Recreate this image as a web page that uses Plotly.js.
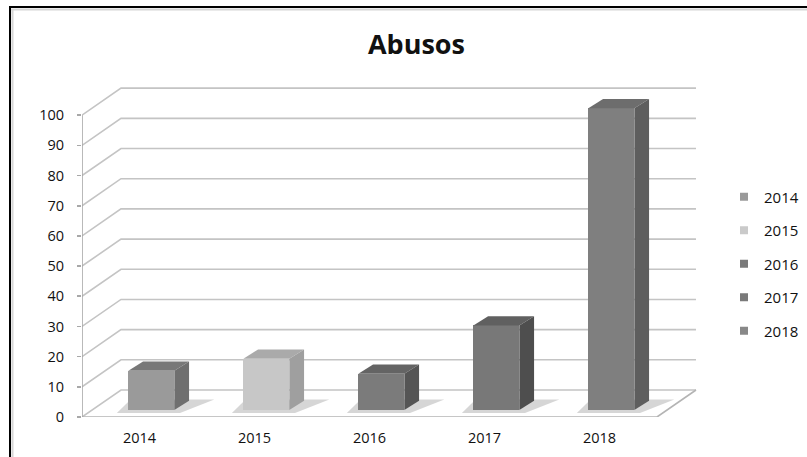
<!DOCTYPE html>
<html>
<head>
<meta charset="utf-8">
<script src="https://cdn.plot.ly/plotly-3.0.1.min.js"></script>
<style>html,body{margin:0;padding:0;background:#fff;}#chart{width:807px;height:457px;}</style>
</head>
<body>
<div id="chart"></div>
<script>
// ---- data ----
const categories = ["2014", "2015", "2016", "2017", "2018"];
const values = [13, 17, 12, 28, 100];
const yTicks = [0, 10, 20, 30, 40, 50, 60, 70, 80, 90, 100];
const frontColors = ["#9a9a9a", "#c7c7c7", "#7b7b7b", "#787878", "#7f7f7f"];
const sideColors  = ["#6f6f6f", "#9f9f9f", "#555555", "#4e4e4e", "#5e5e5e"];
const topColors   = ["#787878", "#aaaaaa", "#646464", "#606060", "#6d6d6d"];
const legendColors = ["#9a9a9a", "#cacaca", "#7a7a7a", "#7a7a7a", "#888888"];

// ---- geometry (style) ----
const XMIN = -0.5, XMAX = 4.9, YMAX = 110;
const DX = 0.339, DY = 8.95;          // full floor depth in data units
const XS = 0.103, YS = 2.32;          // bar front face depth shift
const BW = 0.40;                      // bar width
const BDX = 0.128, BDY = 3.08;        // bar depth
const FLOOR_RIGHT = categories.length - 0.5;
const BACK_RIGHT = FLOOR_RIGHT + DX;

const idx = categories.map((_, i) => i);
const traces = [];
traces.push({
  type: "bar",
  x: idx.map(i => i + XS),
  y: values,
  base: idx.map(() => YS),
  width: idx.map(() => BW),
  marker: {color: frontColors, line: {width: 0}},
  showlegend: false,
  hoverinfo: "skip"
});
categories.forEach((c, i) => {
  traces.push({
    type: "scatter", mode: "markers", x: [null], y: [null], name: c,
    marker: {symbol: "square", size: 8, color: legendColors[i]},
    legendgroup: "g" + i, showlegend: true
  });
});

const shapes = [];
const gridColor = "#c4c4c4";
// walls gridlines
yTicks.forEach(v => {
  shapes.push({type: "path", xref: "x", yref: "y", layer: "below",
    path: `M${XMIN},${v} L${XMIN + DX},${v + DY} L${BACK_RIGHT},${v + DY}`,
    line: {color: gridColor, width: 1.6}});
});
// floor front & right edges
shapes.push({type: "path", xref: "x", yref: "y", layer: "below",
  path: `M${XMIN},0 L${FLOOR_RIGHT},0 L${BACK_RIGHT},${DY}`,
  line: {color: "#b4b4b4", width: 1.6}});
// vertical axis line
shapes.push({type: "line", xref: "x", yref: "y", layer: "below",
  x0: XMIN, x1: XMIN, y0: 0, y1: yTicks[yTicks.length - 1],
  line: {color: "#a8a8a8", width: 1.6}});
// x tick marks at boundaries
for (let k = 0; k <= categories.length; k++) {
  shapes.push({type: "line", xref: "x", yref: "y", layer: "below",
    x0: XMIN + k, x1: XMIN + k, y0: 0, y1: -1.5,
    line: {color: "#a8a8a8", width: 1.6}});
}
// shadows + 3D faces
values.forEach((v, i) => {
  const x0 = i + XS - BW / 2, x1 = i + XS + BW / 2;
  const yb = YS, yt = YS + v;
  shapes.push({type: "path", xref: "x", yref: "y", layer: "below",
    path: `M${x0 - 0.1},${yb - 1.0} L${x1 + 0.05},${yb - 1.0} L${x1 + BDX + 0.22},${yb + BDY + 0.4} L${x0 + 0.02},${yb + BDY + 0.4} Z`,
    fillcolor: "rgba(0,0,0,0.16)", line: {width: 0}});
  shapes.push({type: "path", xref: "x", yref: "y", layer: "above",
    path: `M${x0},${yt} L${x1},${yt} L${x1 + BDX},${yt + BDY} L${x0 + BDX},${yt + BDY} Z`,
    fillcolor: topColors[i], line: {width: 0}});
  shapes.push({type: "path", xref: "x", yref: "y", layer: "above",
    path: `M${x1},${yb} L${x1},${yt} L${x1 + BDX},${yt + BDY} L${x1 + BDX},${yb + BDY} Z`,
    fillcolor: sideColors[i], line: {width: 0}});
});
// frame (page border)
const px2x = p => (p - 82) / 621, py2y = p => (417 - p) / 332;
shapes.push({type: "line", xref: "paper", yref: "paper", x0: px2x(11), x1: px2x(810), y0: py2y(9.5), y1: py2y(9.5), line: {color: "#d6d6d6", width: 2}});
shapes.push({type: "line", xref: "paper", yref: "paper", x0: px2x(12.5), x1: px2x(12.5), y0: py2y(9), y1: py2y(460), line: {color: "#d6d6d6", width: 2}});
shapes.push({type: "line", xref: "paper", yref: "paper", x0: px2x(9), x1: px2x(810), y0: py2y(7), y1: py2y(7), line: {color: "#000", width: 2}});
shapes.push({type: "line", xref: "paper", yref: "paper", x0: px2x(10), x1: px2x(10), y0: py2y(6), y1: py2y(460), line: {color: "#000", width: 2}});

const layout = {
  width: 807, height: 457,
  margin: {l: 82, r: 104, t: 85, b: 40, autoexpand: false},
  paper_bgcolor: "#ffffff", plot_bgcolor: "rgba(0,0,0,0)",
  font: {family: "Open Sans, sans-serif", color: "#111"},
  title: {text: "<b>Abusos</b>", font: {family: "Open Sans, sans-serif", size: 27, color: "#111"},
    x: 416.5 / 807, xanchor: "center", xref: "container", y: 1 - 45 / 457, yanchor: "middle", yref: "container"},
  xaxis: {range: [XMIN, XMAX], tickvals: idx, ticktext: categories, ticks: "",
    showgrid: false, zeroline: false, showline: false, tickfont: {size: 14.5, color: "#111"},
    ticklabelstandoff: 10, fixedrange: true, automargin: false},
  yaxis: {range: [0, YMAX], tickvals: yTicks, ticks: "outside", ticklen: 4, tickcolor: "#a8a8a8", tickwidth: 1.6,
    showgrid: false, zeroline: false, showline: false, tickfont: {size: 14.5, color: "#111"},
    ticklabelstandoff: 10, fixedrange: true, automargin: false},
  legend: {x: px2x(724), xanchor: "left", y: py2y(264), yanchor: "middle",
    font: {size: 15, color: "#111"}, tracegroupgap: 11, bgcolor: "rgba(0,0,0,0)"},
  shapes: shapes,
  bargap: 0
};
Plotly.newPlot("chart", traces, layout, {staticPlot: true, displayModeBar: false});
</script>
</body>
</html>
